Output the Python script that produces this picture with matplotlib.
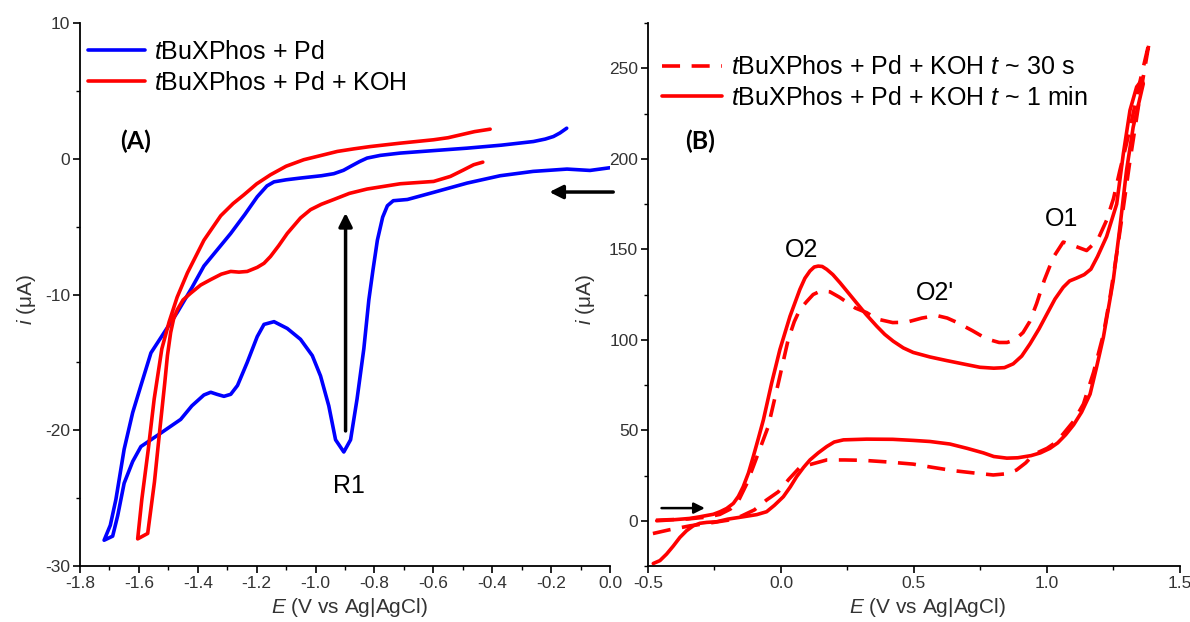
import matplotlib
matplotlib.use("Agg")
import matplotlib.pyplot as plt
from matplotlib.ticker import MultipleLocator

plt.rcParams['font.family'] = ['Liberation Sans', 'DejaVu Sans']
plt.rcParams['mathtext.fontset'] = 'custom'
plt.rcParams['mathtext.rm'] = 'Liberation Sans'
plt.rcParams['mathtext.it'] = 'Liberation Sans:italic'

# ---------------- Panel A data ----------------
a_blue_E = [0.000, -0.068, -0.146, -0.261, -0.373, -0.485, -0.600, -0.688, -0.736, -0.756,
            -0.772, -0.790, -0.805, -0.819, -0.836, -0.859, -0.881, -0.904, -0.932, -0.955,
            -0.983, -1.011, -1.051, -1.096, -1.141, -1.175, -1.198, -1.232, -1.265, -1.288,
            -1.311, -1.335, -1.356, -1.379, -1.420, -1.458, -1.525, -1.593, -1.621, -1.650,
            -1.672, -1.689, -1.718,
            -1.697, -1.678, -1.650, -1.621, -1.593, -1.559, -1.514, -1.469, -1.420, -1.379,
            -1.288, -1.240, -1.198, -1.165, -1.141, -1.100, -1.051, -0.980, -0.938, -0.905,
            -0.880, -0.850, -0.825, -0.780, -0.712, -0.600, -0.486, -0.370, -0.260, -0.220,
            -0.192, -0.170, -0.147]
a_blue_i = [-0.66, -0.86, -0.76, -0.93, -1.25, -1.79, -2.48, -3.00, -3.09, -3.46,
            -4.3, -6.0, -8.2, -10.4, -14.0, -17.7, -20.7, -21.6, -20.7, -18.2,
            -16.0, -14.5, -13.3, -12.5, -12.0, -12.2, -13.1, -15.0, -16.7, -17.35,
            -17.5, -17.35, -17.2, -17.4, -18.2, -19.2, -20.2, -21.2, -22.3, -23.9,
            -26.3, -27.8, -28.1,
            -27.0, -25.1, -21.4, -18.7, -16.7, -14.3, -12.8, -11.3, -9.5, -7.9,
            -5.5, -4.1, -2.8, -2.0, -1.7, -1.55, -1.42, -1.25, -1.1, -0.85,
            -0.55, -0.2, 0.05, 0.25, 0.42, 0.6, 0.78, 1.0, 1.27, 1.45,
            1.64, 1.9, 2.25]

a_red_E = [-0.432, -0.463, -0.500, -0.542, -0.599, -0.712, -0.825, -0.885, -0.938, -0.980,
           -1.017, -1.051, -1.096, -1.125, -1.153, -1.175, -1.198, -1.232, -1.260, -1.288,
           -1.320, -1.356, -1.390, -1.424, -1.450, -1.469, -1.482, -1.492, -1.503, -1.512,
           -1.530, -1.547, -1.570, -1.604,
           -1.590, -1.568, -1.548, -1.522, -1.497, -1.470, -1.435, -1.379, -1.322, -1.280,
           -1.243, -1.200, -1.153, -1.100, -1.040, -0.980, -0.926, -0.870, -0.814, -0.712,
           -0.599, -0.550, -0.508, -0.460, -0.407]
a_red_i = [-0.25, -0.44, -0.85, -1.30, -1.67, -1.84, -2.23, -2.55, -3.00, -3.35,
           -3.75, -4.36, -5.50, -6.4, -7.20, -7.7, -8.00, -8.30, -8.35, -8.30,
           -8.5, -8.90, -9.3, -9.90, -10.4, -11.1, -11.8, -12.8, -14.5, -16.5,
           -20.2, -23.8, -27.6, -28.0,
           -25.1, -21.4, -17.7, -14.0, -12.0, -10.2, -8.4, -6.0, -4.2, -3.3,
           -2.65, -1.85, -1.18, -0.55, -0.07, 0.25, 0.54, 0.73, 0.90, 1.15,
           1.40, 1.55, 1.76, 2.0, 2.18]

# ---------------- Panel B data ----------------
b_1min_E = [-0.467, -0.400, -0.342, -0.305, -0.254, -0.229, -0.204, -0.179, -0.160, -0.142,
            -0.122, -0.104, -0.085, -0.066, -0.035, -0.004, 0.034, 0.071, 0.090, 0.109,
            0.125, 0.140, 0.155, 0.172, 0.195, 0.222, 0.250, 0.284, 0.320, 0.360,
            0.390, 0.422, 0.460, 0.497, 0.560, 0.623, 0.690, 0.748, 0.800, 0.840,
            0.873, 0.905, 0.936, 0.970, 0.999, 1.030, 1.061, 1.085, 1.110, 1.140,
            1.165, 1.190, 1.224, 1.262, 1.287, 1.312, 1.337, 1.356,
            1.362, 1.324, 1.299, 1.274, 1.249, 1.212, 1.185, 1.162, 1.130, 1.100,
            1.070, 1.040, 1.011, 0.975, 0.940, 0.890, 0.849, 0.800, 0.761, 0.700,
            0.635, 0.560, 0.497, 0.420, 0.322, 0.235, 0.200, 0.172, 0.140, 0.109,
            0.085, 0.059, 0.035, 0.009, -0.025, -0.054, -0.091, -0.142, -0.200, -0.242,
            -0.279, -0.305, -0.330, -0.355, -0.380, -0.405, -0.430, -0.455, -0.480]
b_1min_i = [0.0, 0.6, 1.3, 2.2, 3.6, 5.0, 6.8, 9.6, 13.5, 18.8,
            26.5, 35.5, 45.5, 55.8, 76.1, 94.6, 113.0, 127.8, 134.0, 138.0,
            140.2, 140.7, 140.5, 138.9, 136.0, 131.5, 126.5, 120.4, 114.0, 107.5,
            103.0, 99.2, 95.5, 93.0, 90.5, 88.5, 86.5, 84.8, 84.3, 84.6,
            86.7, 91.0, 97.7, 106.0, 114.0, 122.5, 129.0, 132.5, 134.0, 136.0,
            139.0, 146.0, 157.0, 175.0, 202.8, 226.8, 239.7, 243.4,
            241.5, 217.5, 193.6, 162.0, 132.7, 101.4, 84.0, 70.0, 60.0, 53.0,
            47.5, 43.0, 40.0, 37.5, 36.0, 34.8, 34.6, 35.5, 37.5, 40.0,
            42.4, 43.8, 44.4, 45.0, 45.1, 44.7, 43.5, 41.0, 37.5, 33.6,
            29.5, 24.4, 18.7, 13.3, 8.5, 5.0, 3.4, 2.2, 0.9, -0.55,
            -0.9, -1.4, -2.8, -5.5, -9.2, -14.0, -18.4, -22.0, -23.6]

b_30s_E = [-0.470, -0.350, -0.280, -0.230, -0.190, -0.160, -0.130, -0.104, -0.076, -0.048,
           -0.010, 0.027, 0.050, 0.071, 0.096, 0.121, 0.150, 0.184, 0.220, 0.247,
           0.280, 0.322, 0.360, 0.420, 0.472, 0.530, 0.585, 0.625, 0.660, 0.720,
           0.773, 0.820, 0.850, 0.880, 0.910, 0.935, 0.961, 0.990, 1.024, 1.061,
           1.100, 1.149, 1.190, 1.224, 1.250, 1.274, 1.300, 1.324, 1.350, 1.385,
           1.350, 1.312, 1.287, 1.262, 1.237, 1.212, 1.175, 1.137, 1.100, 1.061,
           1.030, 1.000, 0.970, 0.949, 0.920, 0.885, 0.850, 0.798, 0.720, 0.648,
           0.570, 0.497, 0.400, 0.309, 0.240, 0.172, 0.120, 0.071, 0.030, -0.010,
           -0.054, -0.100, -0.150, -0.200, -0.279, -0.342, -0.420, -0.492]
b_30s_i = [0.3, 1.0, 2.0, 3.5, 6.5, 11.0, 20.0, 30.0, 41.0, 52.0,
           76.0, 100.0, 110.0, 116.7, 121.0, 125.0, 127.0, 126.5, 123.5, 120.8,
           117.5, 115.0, 111.5, 109.5, 109.7, 112.0, 113.4, 112.0, 109.7, 105.0,
           100.5, 98.5, 98.5, 100.0, 104.0, 110.0, 120.0, 133.0, 145.6, 154.0,
           152.0, 149.3, 155.0, 166.0, 178.0, 193.6, 209.0, 225.0, 243.0, 265.0,
           235.0, 199.0, 173.0, 147.5, 123.5, 103.0, 82.0, 64.5, 55.0, 48.0,
           43.0, 40.0, 38.0, 36.5, 32.0, 28.0, 26.0, 25.3, 26.5, 27.7,
           29.5, 31.3, 32.5, 33.4, 33.6, 33.6, 31.5, 29.5, 23.0, 16.0,
           11.5, 6.0, 2.5, 0.3, -1.5, -2.8, -5.0, -7.4]

# ---------------- Figure ----------------
fig = plt.figure(figsize=(11.9, 6.22), dpi=100)
axA = fig.add_axes([0.0672, 0.0900, 0.4454, 0.8730])
axB = fig.add_axes([0.5445, 0.0900, 0.4471, 0.8730])

blue = '#0000ff'
red = '#ff0000'
lw = 2.6
tick_col = '#333333'
sty = dict(solid_joinstyle='round', solid_capstyle='round')

axA.plot(a_blue_E, a_blue_i, color=blue, lw=lw, label=r'$\mathit{t}$BuXPhos + Pd', **sty)
axA.plot(a_red_E, a_red_i, color=red, lw=lw, label=r'$\mathit{t}$BuXPhos + Pd + KOH', **sty)

axB.plot(b_30s_E, b_30s_i, color=red, lw=lw, ls=(0, (5.0, 3.2)),
         label=r'$\mathit{t}$BuXPhos + Pd + KOH $\mathit{t}$ ~ 30 s')
axB.plot(b_1min_E, b_1min_i, color=red, lw=lw,
         label=r'$\mathit{t}$BuXPhos + Pd + KOH $\mathit{t}$ ~ 1 min', **sty)

axA.set_xlim(-1.8, 0.0)
axA.set_ylim(-30, 10)
axB.set_xlim(-0.5, 1.5)
axB.set_ylim(-25, 275)

axA.xaxis.set_minor_locator(MultipleLocator(0.1))
axA.yaxis.set_minor_locator(MultipleLocator(5))
axB.xaxis.set_minor_locator(MultipleLocator(0.25))
axB.yaxis.set_minor_locator(MultipleLocator(25))

axA.set_xticks([-1.8, -1.6, -1.4, -1.2, -1.0, -0.8, -0.6, -0.4, -0.2, 0.0])
axA.set_xticklabels(['-1.8', '-1.6', '-1.4', '-1.2', '-1.0', '-0.8', '-0.6', '-0.4', '-0.2', '0.0'])
axA.set_yticks([-30, -20, -10, 0, 10])
axA.set_yticklabels(['-30', '-20', '-10', '0', '10'])
axB.set_xticks([-0.5, 0.0, 0.5, 1.0, 1.5])
axB.set_xticklabels(['-0.5', '0.0', '0.5', '1.0', '1.5'])
axB.set_yticks([0, 50, 100, 150, 200, 250])

for ax in (axA, axB):
    ax.spines['top'].set_visible(False)
    ax.spines['right'].set_visible(False)
    ax.spines['left'].set_linewidth(1.3)
    ax.spines['bottom'].set_linewidth(1.3)
    ax.tick_params(which='major', direction='out', length=5, width=1.2,
                   labelsize=12.5, labelcolor=tick_col, pad=2)
    ax.tick_params(which='minor', direction='out', length=3, width=1.0)
    ax.set_xlabel(r'$\mathit{E}$ (V vs Ag|AgCl)', fontsize=15, color=tick_col)
    ax.set_ylabel(r'$\mathit{i}$ (μA)', fontsize=15, color=tick_col)

axA.xaxis.set_label_coords(0.509, -0.055)
axB.xaxis.set_label_coords(0.526, -0.055)
axA.yaxis.set_label_coords(-0.079, 0.49)
axB.yaxis.set_label_coords(-0.096, 0.49)

legA = axA.legend(loc='upper left', bbox_to_anchor=(0.015, 0.9686), frameon=False,
                  fontsize=18, handlelength=2.3, handletextpad=0.36, borderpad=0,
                  borderaxespad=0, labelspacing=0.28)
legB = axB.legend(loc='upper left', bbox_to_anchor=(0.026, 0.9406), frameon=False,
                  fontsize=18, handlelength=2.4, handletextpad=0.36, borderpad=0,
                  borderaxespad=0, labelspacing=0.26)

# Annotations panel A
axA.text(-1.61, 1.25, '(A)', fontsize=18, fontweight='bold', family=['Lato', 'DejaVu Sans'],
         ha='center', va='center')
axA.text(-0.888, -24.1, 'R1', fontsize=18, ha='center', va='center')
axA.annotate('', xy=(-0.898, -3.99), xytext=(-0.898, -20.05),
             arrowprops=dict(arrowstyle='-|>', color='k', lw=2.5, mutation_scale=20,
                             shrinkA=0, shrinkB=0))
axA.annotate('', xy=(-0.206, -2.45), xytext=(0.011, -2.45), annotation_clip=False,
             arrowprops=dict(arrowstyle='-|>', color='k', lw=2.5, mutation_scale=20,
                             shrinkA=0, shrinkB=0))

# Annotations panel B
axB.text(-0.305, 209.8, '(B)', fontsize=18, fontweight='bold', family=['Lato', 'DejaVu Sans'],
         ha='center', va='center')
axB.text(0.078, 149.6, 'O2', fontsize=18, ha='center', va='center')
axB.text(0.579, 126.0, "O2'", fontsize=18, ha='center', va='center')
axB.text(1.055, 166.6, 'O1', fontsize=18, ha='center', va='center')
axB.annotate('', xy=(-0.286, 7.0), xytext=(-0.449, 7.0),
             arrowprops=dict(arrowstyle='-|>', color='k', lw=1.8, mutation_scale=16,
                             shrinkA=0, shrinkB=0))

fig.savefig('out.png', dpi=100)
